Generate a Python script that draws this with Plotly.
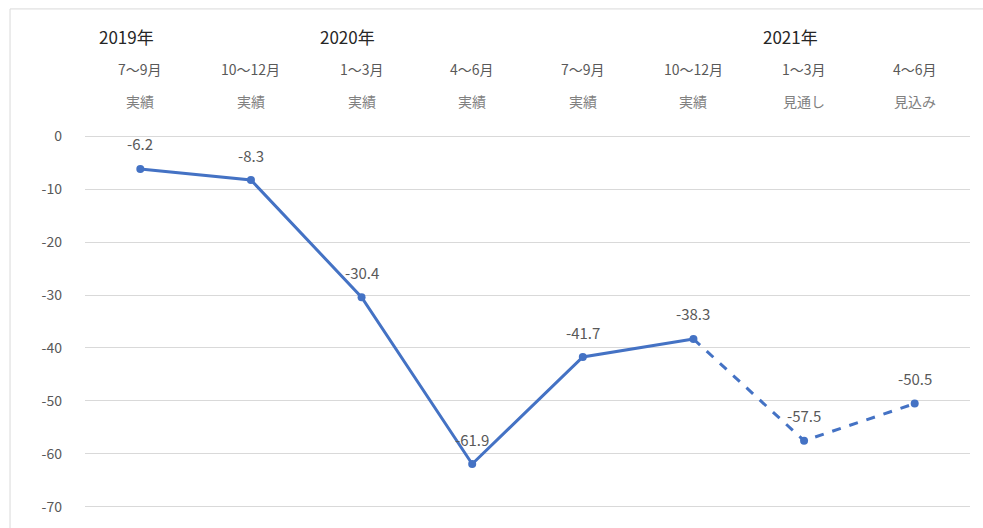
import plotly.graph_objects as go

quarters = ["7〜9月", "10〜12月", "1〜3月", "4〜6月", "7〜9月", "10〜12月", "1〜3月", "4〜6月"]
status = ["実績", "実績", "実績", "実績", "実績", "実績", "見通し", "見込み"]
years = {0: "2019年", 2: "2020年", 6: "2021年"}
values = [-6.2, -8.3, -30.4, -61.9, -41.7, -38.3, -57.5, -50.5]
labels = ["-6.2", "-8.3", "-30.4", "-61.9", "-41.7", "-38.3", "-57.5", "-50.5"]
actual_count = 6  # first 6 are 実績 (solid); rest are forecasts (dashed)
yticks = [0, -10, -20, -30, -40, -50, -60, -70]

FONT = "Noto Sans CJK JP"
BLUE = "#4472C4"
GRAY = "#595959"

x = list(range(len(values)))

fig = go.Figure()
fig.add_trace(go.Scatter(
    x=x[:actual_count], y=values[:actual_count], mode="lines",
    line=dict(color=BLUE, width=3), hoverinfo="skip", showlegend=False))
fig.add_trace(go.Scatter(
    x=x[actual_count - 1:], y=values[actual_count - 1:], mode="lines",
    line=dict(color=BLUE, width=3, dash="dash"), hoverinfo="skip", showlegend=False))
fig.add_trace(go.Scatter(
    x=x, y=values, mode="markers",
    marker=dict(color=BLUE, size=8), showlegend=False))

annotations = []
for i, (v, lab) in enumerate(zip(values, labels)):
    annotations.append(dict(x=i, y=v, xref="x", yref="y", text=lab, showarrow=False,
                            yshift=25, font=dict(family=FONT, size=15, color=GRAY),
                            xanchor="center", yanchor="middle"))
for i, q in enumerate(quarters):
    annotations.append(dict(x=i, y=1.178, xref="x", yref="paper", text=q, showarrow=False,
                            font=dict(family=FONT, size=14, color=GRAY), xanchor="center", yanchor="middle"))
    annotations.append(dict(x=i, y=1.090, xref="x", yref="paper", text=status[i], showarrow=False,
                            font=dict(family=FONT, size=14, color="#7f7f7f"), xanchor="center", yanchor="middle"))
for i, yr in years.items():
    annotations.append(dict(x=i - 0.39, y=1.263, xref="x", yref="paper", text=yr, showarrow=False,
                            font=dict(family=FONT, size=17, color="#262626"), xanchor="left", yanchor="middle"))

fig.update_layout(
    width=983, height=528,
    margin=dict(l=85, r=13, t=135, b=17),
    paper_bgcolor="white", plot_bgcolor="white",
    font=dict(family=FONT, color=GRAY),
    hovermode=False,
    xaxis=dict(range=[-0.5, len(values) - 0.5], showticklabels=False, showgrid=False,
               zeroline=False, showline=False, ticks=""),
    yaxis=dict(range=[-70.2, 0.2], tickvals=yticks, ticktext=[str(v) for v in yticks],
               showgrid=True, gridcolor="#d9d9d9", gridwidth=1, zeroline=False,
               showline=False, ticks="", ticklabelstandoff=22,
               tickfont=dict(family=FONT, size=14, color=GRAY)),
    annotations=annotations,
    shapes=[dict(type="rect", xref="paper", yref="paper", x0=-0.0847, x1=1.05, y0=-0.2, y1=1.338,
                 line=dict(color="#d9d9d9", width=1), fillcolor="rgba(0,0,0,0)", layer="below")],
)

fig.write_html("out.html", config={"displayModeBar": False},
               post_script="document.body.style.margin='0';document.body.style.overflow='hidden';")
